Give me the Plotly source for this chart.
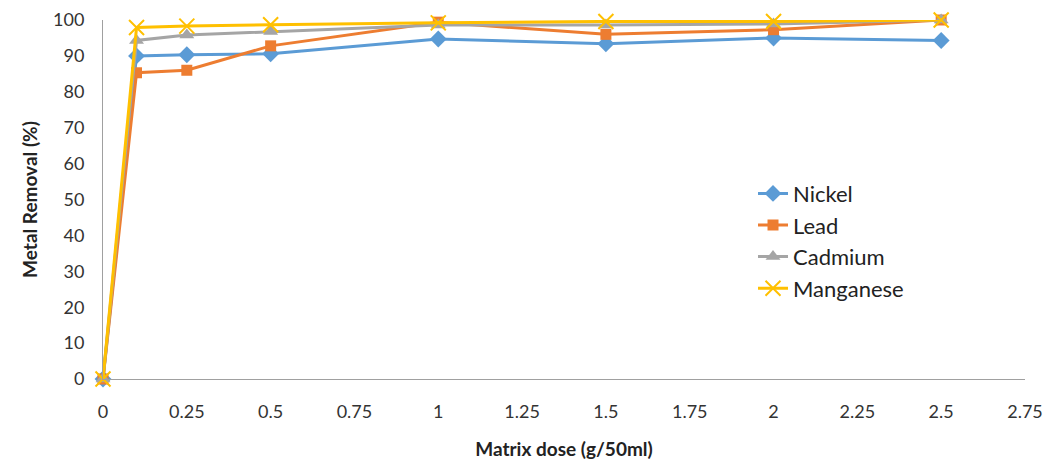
import plotly.graph_objects as go

dose = [0, 0.1, 0.25, 0.5, 1, 1.5, 2, 2.5]
nickel = [0, 90.0, 90.3, 90.6, 94.7, 93.4, 95.0, 94.3]
lead = [0, 85.3, 86.0, 92.8, 99.4, 96.0, 97.3, 100.0]
cadmium = [0, 94.3, 95.8, 96.8, 98.6, 98.6, 98.9, 100.0]
manganese = [0, 97.9, 98.3, 98.7, 99.2, 99.6, 99.6, 100.0]

x_ticks = [0, 0.25, 0.5, 0.75, 1, 1.25, 1.5, 1.75, 2, 2.25, 2.5, 2.75]
x_tick_labels = ["0", "0.25", "0.5", "0.75", "1", "1.25", "1.5", "1.75", "2", "2.25", "2.5", "2.75"]

series = [
    ("Nickel", nickel, "#5B9BD5", "diamond", 13, None),
    ("Lead", lead, "#ED7D31", "square", 11, None),
    ("Cadmium", cadmium, "#A5A5A5", "triangle-up", 13, None),
    ("Manganese", manganese, "#FFC000", "x-thin-open", 15, 2),
]

fig = go.Figure()
for name, vals, color, sym, size, lw in series:
    marker = dict(symbol=sym, size=size, color=color)
    if lw:
        marker["line"] = dict(color=color, width=lw)
    else:
        marker["line"] = dict(width=0)
    fig.add_trace(go.Scatter(
        x=dose, y=vals, name=name, mode="lines+markers", cliponaxis=False,
        line=dict(color=color, width=3), marker=marker,
    ))

font_fam = "Lato, Open Sans, sans-serif"
fig.update_layout(
    width=1060, height=461,
    margin=dict(l=103, r=35, t=20, b=82),
    plot_bgcolor="white", paper_bgcolor="white",
    font=dict(family=font_fam, size=18, color="#333333"),
    showlegend=True,
    legend=dict(x=0.705, y=0.575, xanchor="left", yanchor="top",
                font=dict(size=22, color="#222222"), bgcolor="rgba(0,0,0,0)",
                tracegroupgap=0, itemwidth=30),
    xaxis=dict(range=[0, 2.75], tickmode="array", tickvals=x_ticks, ticktext=x_tick_labels,
               showgrid=False, zeroline=False, showline=True, linecolor="#A0A0A0", linewidth=1,
               ticks="", ticklabelstandoff=16, automargin=False,
               title=dict(text="<b>Matrix dose (g/50ml)</b>", font=dict(size=19, color="#222222"), standoff=22)),
    yaxis=dict(range=[0, 100], tickmode="array", tickvals=list(range(0, 101, 10)),
               showgrid=False, zeroline=False, showline=True, linecolor="#A0A0A0", linewidth=1,
               ticks="", ticklabelstandoff=14, automargin=False,
               title=dict(text="<b>Metal Removal (%)</b>", font=dict(size=19, color="#222222"), standoff=10)),
)

fig.write_html("out.html", config={"displayModeBar": False},
               post_script="document.body.style.margin='0';document.body.style.overflow='hidden';")
